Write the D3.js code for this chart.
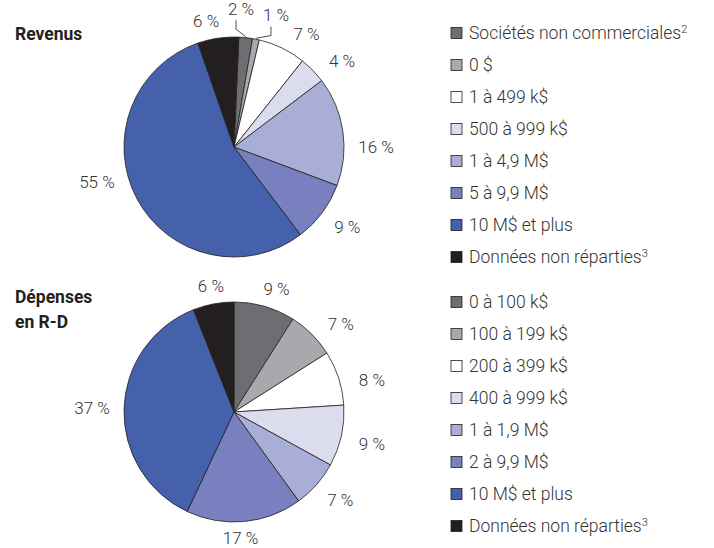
<!DOCTYPE html>
<html>
<head>
<meta charset="utf-8">
<script src="https://cdn.jsdelivr.net/npm/d3@7"></script>
<style>
  body { margin: 0; background: #fff; }
  svg { display: block; }
  text { font-family: Roboto, "Liberation Sans", Arial, sans-serif; }
</style>
</head>
<body>
<div id="graph"></div>
<script>
// Données
var revenueCats = ["Sociétés non commerciales", "0 $", "1 à 499 k$", "500 à 999 k$", "1 à 4,9 M$", "5 à 9,9 M$", "10 M$ et plus", "Données non réparties"];
var revenueNotes = ["2", "", "", "", "", "", "", "3"];
var revenueValues = [2, 1, 7, 4, 16, 9, 55, 6];

var rdCats = ["0 à 100 k$", "100 à 199 k$", "200 à 399 k$", "400 à 999 k$", "1 à 1,9 M$", "2 à 9,9 M$", "10 M$ et plus", "Données non réparties"];
var rdNotes = ["", "", "", "", "", "", "", "3"];
var rdValues = [9, 7, 8, 9, 7, 17, 37, 6];

var colors = ["#6d6e71", "#a7a9ac", "#ffffff", "#dcdcef", "#a9aed6", "#7880bf", "#4561ab", "#231f20"];

var W = 714, H = 548, R = 110;

var svg = d3.select("#graph").append("svg")
    .attr("width", W)
    .attr("height", H);

// petits ajustements de position des étiquettes (degrés)
var revNudge = [-3.2, 6.2, 6.8, 5.7, 8.3, -1.4, 13.8, -4.2];
var rdNudge = [2.8, 5.6, 5, 0.4, -1.7, 2.4, 0, 0.4];

function drawPie(cx, cy, values, rotateDeg, nudges, leaders) {
    var rot = rotateDeg * Math.PI / 180;
    var pie = d3.pie().sort(null).value(function(d) { return d; })
        .startAngle(rot).endAngle(rot + 2 * Math.PI);
    var arc = d3.arc().innerRadius(0).outerRadius(R);
    var arcs = pie(values);

    var g = svg.append("g").attr("transform", "translate(" + cx + "," + cy + ")");

    g.selectAll("path")
        .data(arcs)
        .enter().append("path")
        .attr("d", arc)
        .attr("fill", function(d, i) { return colors[i]; })
        .attr("stroke", "#231f20")
        .attr("stroke-width", 0.8)
        .attr("stroke-linejoin", "round");

    arcs.forEach(function(d, i) {
        var mid = (d.startAngle + d.endAngle) / 2;
        var a = mid + nudges[i] * Math.PI / 180;
        var rr = 125 + 17 * Math.abs(Math.sin(a));
        if (leaders[i]) rr = 138;
        var lx = rr * Math.sin(a), ly = -rr * Math.cos(a);
        g.append("text")
            .attr("x", lx)
            .attr("y", ly)
            .attr("dy", "0.35em")
            .attr("text-anchor", "middle")
            .style("font-size", "17px")
            .style("font-weight", 300)
            .style("fill", "#333")
            .text(d.value + " %");
        if (leaders[i]) {
            var ex = (R + 1) * Math.sin(mid), ey = -(R + 1) * Math.cos(mid);
            var vx = lx - 5;
            g.append("polyline")
                .attr("points", [[vx, ly + 11], [vx, ly + 20], [ex, ey]].map(function(p) { return p.join(","); }).join(" "))
                .attr("fill", "none")
                .attr("stroke", "#231f20")
                .attr("stroke-width", 0.8);
        }
    });
}

function drawLegend(x, y0, cats, notes) {
    var step = 32;
    var g = svg.append("g");
    cats.forEach(function(c, i) {
        var y = y0 + i * step;
        g.append("rect")
            .attr("x", x).attr("y", y - 5.5)
            .attr("width", 11).attr("height", 11)
            .attr("fill", colors[i])
            .attr("stroke", "#231f20")
            .attr("stroke-width", 0.8);
        var t = g.append("text")
            .attr("x", x + 18).attr("y", y)
            .attr("dy", "0.35em")
            .style("font-size", "17.5px")
            .style("font-weight", 300)
            .style("fill", "#333");
        t.append("tspan").text(c);
        if (notes[i]) {
            t.append("tspan").attr("dy", "-6").style("font-size", "11px").text(notes[i]);
        }
    });
}

// Titres
svg.append("text").attr("x", 15).attr("y", 40)
    .style("font-size", "17.5px").style("font-weight", "bold").style("fill", "#231f20")
    .text("Revenus");
svg.append("text").attr("x", 15).attr("y", 303)
    .style("font-size", "17.5px").style("font-weight", "bold").style("fill", "#231f20")
    .text("Dépenses");
svg.append("text").attr("x", 15).attr("y", 328)
    .style("font-size", "17.5px").style("font-weight", "bold").style("fill", "#231f20")
    .text("en R-D");

drawPie(234, 147, revenueValues, 2.5, revNudge, [true, true, false, false, false, false, false, false]);
drawPie(234, 412, rdValues, 0, rdNudge, [false, false, false, false, false, false, false, false]);

drawLegend(451, 33, revenueCats, revenueNotes);
drawLegend(451, 302, rdCats, rdNotes);
</script>
</body>
</html>
